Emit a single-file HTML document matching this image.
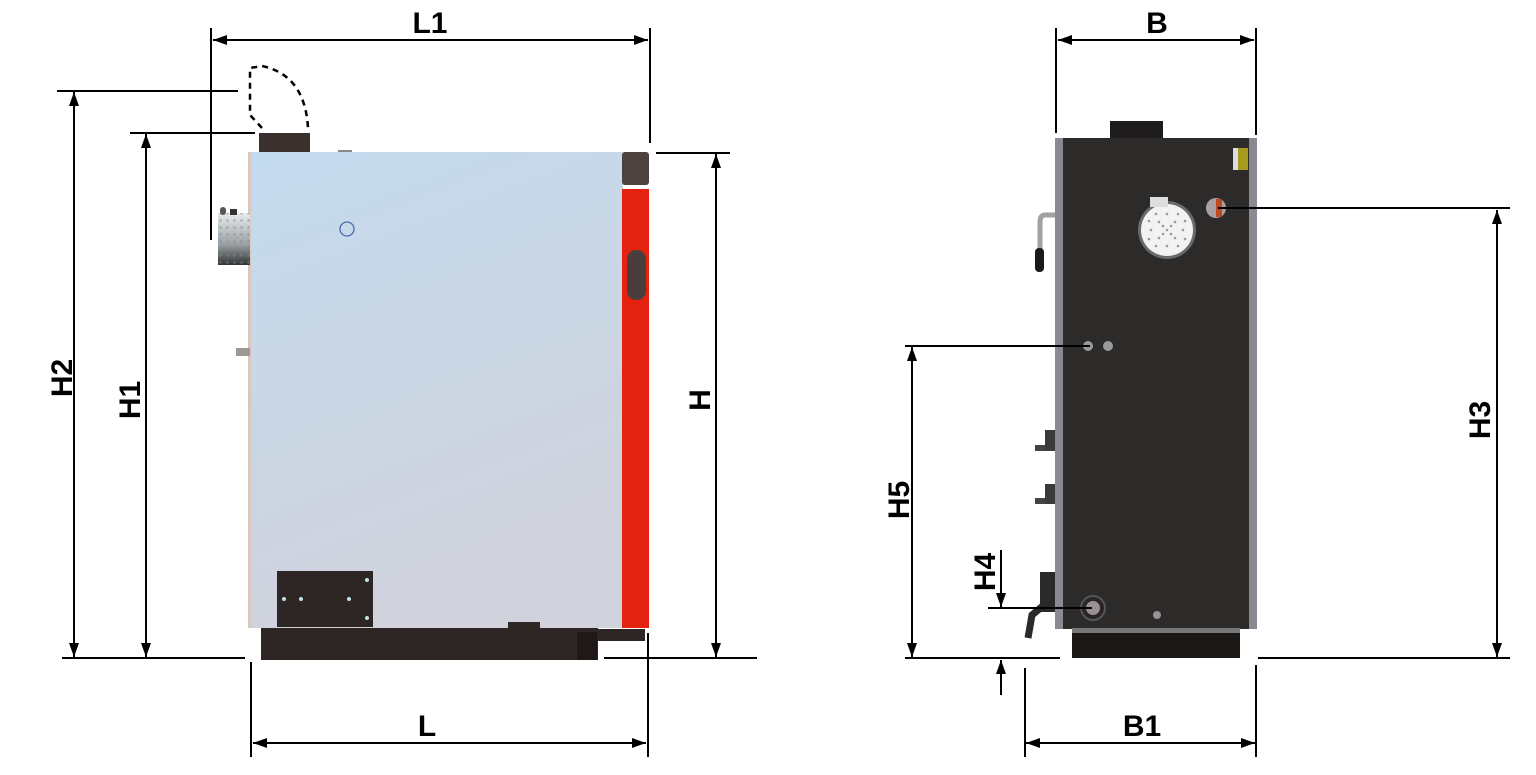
<!DOCTYPE html>
<html><head><meta charset="utf-8"><style>html,body{margin:0;padding:0;background:#fff}svg{display:block}text{font-family:"Liberation Sans",sans-serif;font-weight:bold;font-size:30px;fill:#000}</style></head><body>
<svg width="1536" height="775" viewBox="0 0 1536 775" xmlns="http://www.w3.org/2000/svg">
<defs>
<linearGradient id="bg" x1="0" y1="0" x2="0.3" y2="1"><stop offset="0" stop-color="#c4dbee"/><stop offset="1" stop-color="#d0d2dc"/></linearGradient>
<linearGradient id="cyl" x1="0" y1="0" x2="0" y2="1"><stop offset="0" stop-color="#e8ecee"/><stop offset="0.6" stop-color="#9aa0a4"/><stop offset="1" stop-color="#303434"/></linearGradient>
<marker id="a" viewBox="0 0 14 10" refX="14" refY="5" markerWidth="14" markerHeight="10" markerUnits="userSpaceOnUse" orient="auto-start-reverse"><path d="M0,0 L14,5 L0,10 z" fill="#000"/></marker>
<pattern id="dots" width="7" height="7" patternUnits="userSpaceOnUse"><circle cx="3.5" cy="3.5" r="1.2" fill="#888"/></pattern>
</defs>
<!-- LEFT VIEW -->
<rect x="259" y="133" width="51" height="20" fill="#3a302e"/>
<path d="M262,128 L250,115 L250,68 L262,66 Q305,75 308,128" fill="none" stroke="#000" stroke-width="2.5" stroke-dasharray="6,5"/>
<rect x="338" y="150" width="14" height="4" fill="#888"/>
<rect x="250" y="152" width="373" height="476" fill="url(#bg)"/>
<rect x="248" y="152" width="3" height="476" fill="#d8c8c0"/>
<rect x="218" y="213" width="32" height="52" fill="url(#cyl)"/>
<rect x="218" y="213" width="32" height="52" fill="url(#dots)" opacity="0.6"/>
<rect x="220" y="207" width="6" height="8" rx="3" fill="#555"/><rect x="230" y="209" width="7" height="6" fill="#333"/>
<rect x="236" y="348" width="14" height="8" fill="#a09890"/>
<circle cx="347" cy="229" r="7" fill="none" stroke="#4a6aa8" stroke-width="1.3"/>
<rect x="622" y="152" width="27" height="33" rx="3" fill="#4e4240"/>
<rect x="622" y="189" width="27" height="439" fill="#e3230f"/>
<rect x="627" y="250" width="19" height="50" rx="9" fill="#4a3e3c"/>
<rect x="277" y="571" width="96" height="56" fill="#2e2624"/>
<g fill="#bfe0e6"><circle cx="284" cy="599" r="2"/><circle cx="301" cy="599" r="2"/><circle cx="349" cy="599" r="2"/><circle cx="367" cy="580" r="2"/><circle cx="367" cy="618" r="2"/></g>
<rect x="508" y="622" width="32" height="8" fill="#2e2624"/>
<rect x="261" y="628" width="337" height="32" fill="#2e2624"/>
<rect x="577" y="632" width="20" height="28" fill="#1e1816"/>
<rect x="597" y="629" width="48" height="12" fill="#2e2624"/>
<!-- left dims -->
<g stroke="#000" stroke-width="2" fill="none">
<line x1="211" y1="28" x2="211" y2="240"/><line x1="650" y1="28" x2="650" y2="143"/>
<line x1="213" y1="40" x2="648" y2="40" marker-start="url(#a)" marker-end="url(#a)"/>
<line x1="57" y1="91" x2="238" y2="91"/><line x1="74" y1="92" x2="74" y2="657" marker-start="url(#a)" marker-end="url(#a)"/>
<line x1="130" y1="133" x2="255" y2="133"/><line x1="146" y1="134" x2="146" y2="657" marker-start="url(#a)" marker-end="url(#a)"/>
<line x1="62" y1="658" x2="245" y2="658"/>
<line x1="656" y1="153" x2="730" y2="153"/><line x1="604" y1="658" x2="757" y2="658"/>
<line x1="716" y1="154" x2="716" y2="657" marker-start="url(#a)" marker-end="url(#a)"/>
<line x1="251" y1="662" x2="251" y2="757"/><line x1="648" y1="633" x2="648" y2="757"/>
<line x1="253" y1="743" x2="646" y2="743" marker-start="url(#a)" marker-end="url(#a)"/>
</g>
<text x="430" y="33" text-anchor="middle">L1</text>
<text x="427" y="736" text-anchor="middle">L</text>
<text transform="translate(72,378) rotate(-90)" text-anchor="middle">H2</text>
<text transform="translate(140,400) rotate(-90)" text-anchor="middle">H1</text>
<text transform="translate(710,400) rotate(-90)" text-anchor="middle">H</text>
<!-- RIGHT VIEW -->
<rect x="1110" y="121" width="53" height="19" fill="#1e1c1c"/>
<rect x="1055" y="138" width="202" height="491" fill="#2d2b2a"/>
<rect x="1055" y="138" width="8" height="491" fill="#8a8890"/>
<rect x="1249" y="138" width="8" height="491" fill="#8a8890"/>
<rect x="1238" y="148" width="10" height="22" fill="#a89a1c"/><rect x="1233" y="148" width="5" height="22" fill="#ddd"/>
<circle cx="1167" cy="230" r="29" fill="#6a6a6a"/><circle cx="1167" cy="230" r="26" fill="#f2f2f2"/>
<g fill="#999">
<circle cx="1167" cy="230" r="1.3"/>
<circle cx="1159" cy="222" r="1.3"/><circle cx="1175" cy="222" r="1.3"/><circle cx="1159" cy="238" r="1.3"/><circle cx="1175" cy="238" r="1.3"/>
<circle cx="1167" cy="214" r="1.3"/><circle cx="1167" cy="246" r="1.3"/><circle cx="1151" cy="230" r="1.3"/><circle cx="1183" cy="230" r="1.3"/>
<circle cx="1156" cy="214" r="1.3"/><circle cx="1178" cy="214" r="1.3"/><circle cx="1156" cy="246" r="1.3"/><circle cx="1178" cy="246" r="1.3"/>
<circle cx="1149" cy="221" r="1.3"/><circle cx="1185" cy="221" r="1.3"/><circle cx="1149" cy="239" r="1.3"/><circle cx="1185" cy="239" r="1.3"/>
<circle cx="1163" cy="226" r="1.3"/><circle cx="1171" cy="234" r="1.3"/><circle cx="1171" cy="226" r="1.3"/><circle cx="1163" cy="234" r="1.3"/>
</g>
<rect x="1150" y="197" width="18" height="10" fill="#ddd"/>
<circle cx="1216" cy="208" r="10" fill="#a8a0a4"/><rect x="1216" y="199" width="6" height="18" fill="#c04a20"/>
<path d="M1055,215 L1045,215 Q1040,215 1040,222 L1040,255" stroke="#a0a0a0" stroke-width="5" fill="none"/>
<rect x="1035" y="248" width="9" height="24" rx="4" fill="#1a1a1a"/>
<g fill="#999"><circle cx="1088" cy="346" r="5"/><circle cx="1108" cy="346" r="5"/></g>
<rect x="1035" y="445" width="20" height="6" fill="#444"/><rect x="1045" y="430" width="10" height="20" fill="#3a3a3a"/>
<rect x="1035" y="498" width="20" height="6" fill="#444"/><rect x="1045" y="484" width="10" height="20" fill="#3a3a3a"/>
<rect x="1040" y="572" width="15" height="40" fill="#2a2a2a"/>
<path d="M1044,605 L1032,615 L1028,638" stroke="#2a2a2a" stroke-width="7" fill="none"/>
<circle cx="1093" cy="608" r="12" fill="#2a2626" stroke="#555" stroke-width="2"/><circle cx="1093" cy="608" r="7" fill="#9a9094"/>
<circle cx="1157" cy="615" r="4" fill="#9a9094"/>
<rect x="1072" y="628" width="168" height="5" fill="#777"/>
<rect x="1072" y="633" width="168" height="25" fill="#1c1816"/>
<g stroke="#000" stroke-width="2" fill="none">
<line x1="1056" y1="28" x2="1056" y2="133"/><line x1="1256" y1="28" x2="1256" y2="135"/>
<line x1="1058" y1="40" x2="1254" y2="40" marker-start="url(#a)" marker-end="url(#a)"/>
<line x1="1218" y1="208" x2="1510" y2="208"/><line x1="1258" y1="658" x2="1510" y2="658"/>
<line x1="1497" y1="210" x2="1497" y2="657" marker-start="url(#a)" marker-end="url(#a)"/>
<line x1="905" y1="346" x2="1090" y2="346"/><line x1="905" y1="658" x2="1060" y2="658"/>
<line x1="912" y1="347" x2="912" y2="657" marker-start="url(#a)" marker-end="url(#a)"/>
<line x1="988" y1="608" x2="1092" y2="608"/>
<line x1="1001" y1="550" x2="1001" y2="607" marker-end="url(#a)"/>
<line x1="1001" y1="695" x2="1001" y2="660" marker-end="url(#a)"/>
<line x1="1025" y1="668" x2="1025" y2="757"/><line x1="1256" y1="665" x2="1256" y2="757"/>
<line x1="1026" y1="743" x2="1255" y2="743" marker-start="url(#a)" marker-end="url(#a)"/>
</g>
<text x="1157" y="33" text-anchor="middle">B</text>
<text x="1142" y="736" text-anchor="middle">B1</text>
<text transform="translate(1490,420) rotate(-90)" text-anchor="middle">H3</text>
<text transform="translate(909,500) rotate(-90)" text-anchor="middle">H5</text>
<text transform="translate(995,572) rotate(-90)" text-anchor="middle">H4</text>
</svg>
</body></html>
